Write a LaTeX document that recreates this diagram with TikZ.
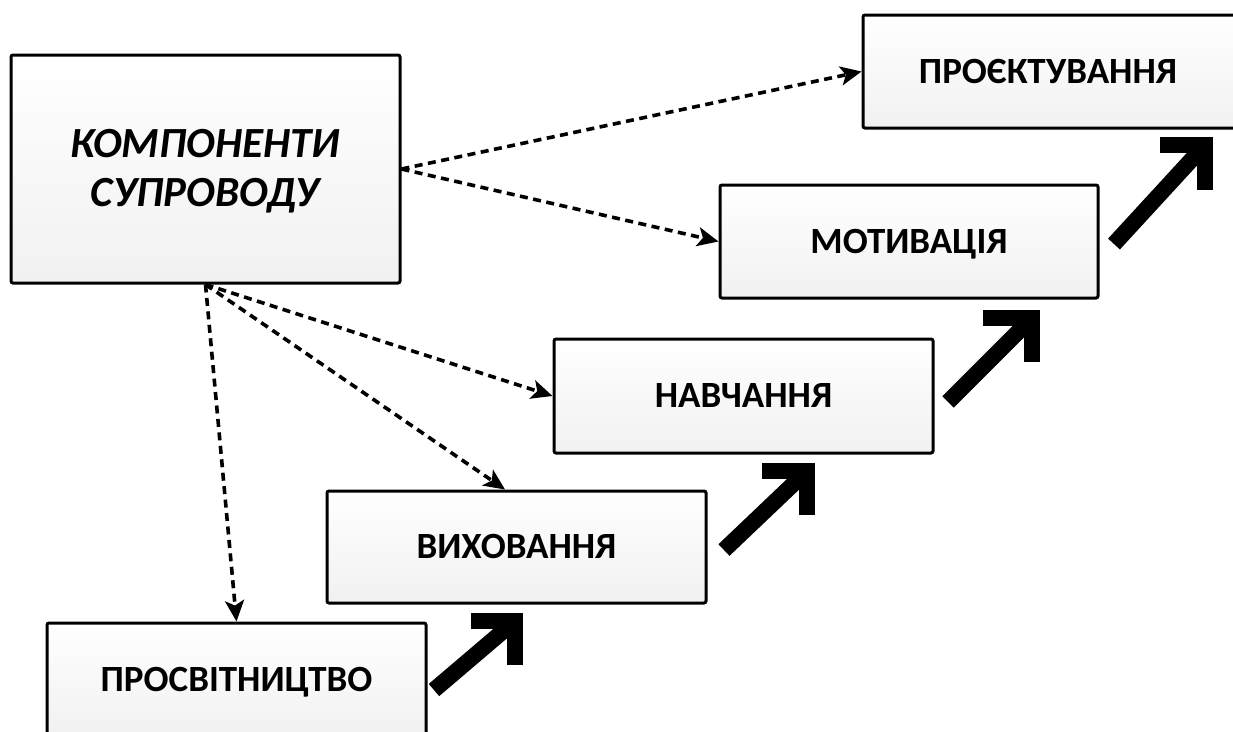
\documentclass[tikz,border=0pt]{standalone}
\usepackage{fontspec}
\setmainfont{Carlito}
\usetikzlibrary{arrows.meta,calc}
\begin{document}
\begin{tikzpicture}[x=1pt,y=-1pt,
  boxtext/.style={inner sep=0pt, font=\fontsize{37}{41}\selectfont\bfseries, text height=23.5pt, text depth=0pt},
  box/.style={boxtext, draw=black, line width=3pt, rounded corners=2pt, top color=white, bottom color=gray!11,
    minimum width=379pt, minimum height=113pt},
  maintext/.style={inner sep=0pt, font=\fontsize{43}{48}\selectfont\bfseries\itshape, text height=27pt, text depth=0pt},
  dotarrow/.style={line width=3.6pt, dash pattern=on 8pt off 5.5pt, -{Stealth[length=21pt,width=19pt,inset=5pt]}},
  bigarrow/.style={line width=16pt, line join=miter, line cap=butt},
  bigshadow/.style={bigarrow, draw=gray!30},
]
\useasboundingbox (0,0) rectangle (1233,731);

% boxes
\node[box, minimum width=389pt, minimum height=228pt] (main) at (205.5,169) {};
\node[maintext] (t1) at (205,144) {КОМПОНЕНТИ};
\node[maintext] (t2) at (205,193) {СУПРОВОДУ};
\node[box, minimum width=386pt] (proj) at (1056,71.5) {};
\node[boxtext] (projt) at (1048,71.5) {ПРОЄКТУВАННЯ};
\node[box, minimum width=378pt] (motyv) at (909,241.5) {МОТИВАЦІЯ};
\node[box, minimum height=114pt] (navch) at (743.5,396) {НАВЧАННЯ};
\node[box, minimum height=112pt] (vykh) at (516.5,547) {ВИХОВАННЯ};
\node[box] (prosv) at (236.5,679.5) {ПРОСВІТНИЦТВО};

% dotted connectors
\draw[dotarrow] (main.east) -- (proj.west);
\draw[dotarrow] (main.east) -- (motyv.west);
\draw[dotarrow] (main.south) -- (navch.west);
\draw[dotarrow] (main.south) -- ($(vykh.north west)!0.47!(vykh.north east)$);
\draw[dotarrow] (main.south) -- (prosv.north);

% thick arrows: tail, corner, horizontal arm end, vertical arm end
\coordinate (aT) at (434,690); \coordinate (aC) at (515,621); \coordinate (aH) at (471,621); \coordinate (aV) at (515,665);
\coordinate (bT) at (724,550); \coordinate (bC) at (807,471); \coordinate (bH) at (762,471); \coordinate (bV) at (807,515);
\coordinate (cT) at (948,402); \coordinate (cC) at (1032,318); \coordinate (cH) at (983,318); \coordinate (cV) at (1032,362);
\coordinate (dT) at (1114,244); \coordinate (dC) at (1205,145); \coordinate (dH) at (1160,145); \coordinate (dV) at (1205,190);

\foreach \p in {a,b,c,d}{
  \begin{scope}[shift={(3,3)}]
    \draw[bigshadow] (\p T) -- (\p C);
    \draw[bigshadow] (\p H) -- (\p C) -- (\p V);
  \end{scope}
}
\foreach \p in {a,b,c,d}{
  \draw[bigarrow] (\p T) -- (\p C);
  \draw[bigarrow] (\p H) -- (\p C) -- (\p V);
}
\end{tikzpicture}
\end{document}
